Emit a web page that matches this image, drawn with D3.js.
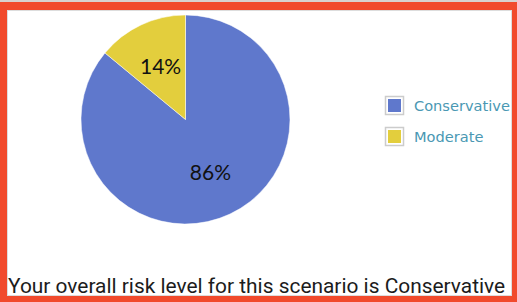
<!DOCTYPE html>
<html><head><meta charset="utf-8">
<script src="https://cdn.jsdelivr.net/npm/d3@7"></script>
<style>html,body{margin:0;padding:0;background:#fff;}svg{display:block;}</style>
</head><body>
<svg id="chart" width="517" height="302"></svg>
<script>
const categories = ["Conservative", "Moderate"];
const values = [86, 14];
const colors = ["#5f78cc", "#e3ce3d"];
const caption = "Your overall risk level for this scenario is Conservative";

const svg = d3.select("#chart");
svg.append("rect").attr("x",0).attr("y",0).attr("width",517).attr("height",302).attr("fill","#f14a2c");
svg.append("rect").attr("x",0).attr("y",0).attr("width",517).attr("height",2).attr("fill","#d8d2cf");
svg.append("rect").attr("x",7.5).attr("y",10.5).attr("width",504).attr("height",285).attr("fill","#fff").attr("stroke","#ddd").attr("stroke-width",1);

const cx = 185.5, cy = 119.5, r = 104.5;
const pie = d3.pie().sort(null).value(d => d.v);
const data = categories.map((c,i)=>({c, v: values[i], col: colors[i]}));
const arcs = pie(data);
const arc = d3.arc().innerRadius(0).outerRadius(r);
const labelArc = d3.arc().innerRadius(r*0.56).outerRadius(r*0.56);
const g = svg.append("g").attr("transform",`translate(${cx},${cy})`);
g.selectAll("path").data(arcs).enter().append("path")
  .attr("d", arc).attr("fill", d=>d.data.col).attr("stroke","#fff").attr("stroke-width",0.5);
const pct = d3.format(".0%");
const total = d3.sum(values);
g.selectAll("text").data(arcs).enter().append("text")
  .attr("transform", d => {
    const [x,y] = labelArc.centroid(d);
    return `translate(${x},${y})`;
  })
  .attr("text-anchor","middle").attr("dy","0.36em")
  .attr("font-family","Lato, 'Open Sans', sans-serif").attr("font-size",21).attr("fill","#111")
  .text(d => pct(d.data.v/total));

const leg = svg.append("g").attr("transform","translate(385,96)");
const items = leg.selectAll("g").data(data).enter().append("g")
  .attr("transform",(d,i)=>`translate(0,${i*31})`);
items.append("rect").attr("x",0.5).attr("y",0.5).attr("width",18).attr("height",18)
  .attr("fill","#fff").attr("stroke","#ccc").attr("stroke-width",1.5);
items.append("rect").attr("x",3).attr("y",3).attr("width",13).attr("height",13).attr("fill",d=>d.col);
items.append("text").attr("x",29).attr("y",15).attr("font-family","'DejaVu Sans', Verdana, sans-serif")
  .attr("font-size",14.6).attr("fill","#4a98b3").text(d=>d.c);

svg.append("text").attr("x",8).attr("y",293).attr("font-family","Roboto, sans-serif")
  .attr("font-size",20.9).attr("fill","#1c1c1c").text(caption);
</script>
</body></html>
